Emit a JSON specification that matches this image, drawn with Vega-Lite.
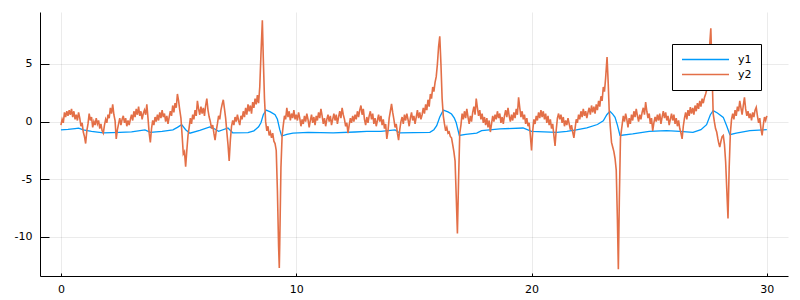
{
 "$schema": "https://vega.github.io/schema/vega-lite/v6.json",
 "width": 748,
 "height": 264,
 "autosize": {"type": "none"},
 "padding": {"left": 40, "top": 12, "right": 12, "bottom": 24},
 "background": "white",
 "config": {
  "view": {"stroke": null},
  "axis": {"labelFont": "DejaVu Sans", "labelFontSize": 11, "labelColor": "#000", "domainColor": "#000", "domainWidth": 1, "tickColor": "#000", "tickWidth": 1, "gridColor": "#000", "gridOpacity": 0.1, "gridWidth": 0.8}
 },
 "datasets": {
  "y1": [
   {"x":0,"y":-0.72},{"x":0.3,"y":-0.68},{"x":0.6,"y":-0.6},{"x":0.75,"y":-0.56},{"x":0.95,"y":-0.72},{"x":1.3,"y":-0.85},{"x":1.8,"y":-0.98},{"x":2.5,"y":-0.93},{"x":3.0,"y":-0.88},{"x":3.57,"y":-0.72},{"x":3.8,"y":-0.93},{"x":4.3,"y":-0.85},{"x":4.76,"y":-0.72},{"x":4.95,"y":-0.5},{"x":5.13,"y":-0.26},{"x":5.3,"y":-0.7},{"x":5.48,"y":-1.0},{"x":5.9,"y":-0.75},{"x":6.33,"y":-0.45},{"x":6.5,"y":-0.6},{"x":6.7,"y":-0.84},{"x":7.1,"y":-0.55},{"x":7.3,"y":-0.97},{"x":7.95,"y":-0.95},{"x":8.2,"y":-0.8},{"x":8.4,"y":-0.45},{"x":8.5,"y":-0.1},{"x":8.6,"y":0.6},{"x":8.72,"y":1.0},{"x":8.9,"y":0.85},{"x":9.1,"y":0.6},{"x":9.2,"y":0.2},{"x":9.3,"y":-0.7},{"x":9.38,"y":-1.25},{"x":9.6,"y":-1.1},{"x":9.86,"y":-1.0},{"x":10.5,"y":-0.93},{"x":11.57,"y":-0.97},{"x":12.5,"y":-0.9},{"x":13.0,"y":-0.84},{"x":13.6,"y":-0.85},{"x":14.2,"y":-0.72},{"x":14.4,"y":-0.98},{"x":15.0,"y":-0.95},{"x":15.68,"y":-0.93},{"x":15.85,"y":-0.7},{"x":15.97,"y":-0.35},{"x":16.1,"y":0.4},{"x":16.25,"y":1.0},{"x":16.45,"y":0.85},{"x":16.6,"y":0.66},{"x":16.72,"y":0.3},{"x":16.8,"y":-0.1},{"x":16.93,"y":-1.2},{"x":17.2,"y":-1.1},{"x":17.67,"y":-1.0},{"x":17.88,"y":-0.78},{"x":18.66,"y":-0.63},{"x":19.64,"y":-0.55},{"x":20.0,"y":-0.84},{"x":21.07,"y":-0.93},{"x":21.5,"y":-0.85},{"x":21.9,"y":-0.72},{"x":22.35,"y":-0.55},{"x":22.8,"y":-0.25},{"x":23.05,"y":0.08},{"x":23.2,"y":0.6},{"x":23.33,"y":0.9},{"x":23.45,"y":0.65},{"x":23.55,"y":0.37},{"x":23.65,"y":-0.3},{"x":23.76,"y":-1.2},{"x":24.3,"y":-1.07},{"x":25.0,"y":-0.85},{"x":25.74,"y":-0.78},{"x":26.3,"y":-0.84},{"x":26.86,"y":-0.93},{"x":27.2,"y":-0.7},{"x":27.44,"y":-0.26},{"x":27.6,"y":0.6},{"x":27.72,"y":0.95},{"x":27.9,"y":0.75},{"x":28.15,"y":0.37},{"x":28.3,"y":-0.4},{"x":28.43,"y":-1.13},{"x":28.7,"y":-1.0},{"x":29.28,"y":-0.78},{"x":29.85,"y":-0.72},{"x":30.0,"y":-0.7}
  ],
  "y2": [
   {"x":0.00,"y":-0.3},{"x":0.05,"y":0.2},{"x":0.10,"y":-0.1},{"x":0.15,"y":0.8},{"x":0.20,"y":0.4},{"x":0.25,"y":0.9},{"x":0.30,"y":0.5},{"x":0.35,"y":1.0},{"x":0.40,"y":0.6},{"x":0.45,"y":1.1},{"x":0.50,"y":0.4},{"x":0.55,"y":0.9},{"x":0.60,"y":0.2},{"x":0.65,"y":0.6},{"x":0.70,"y":0.1},{"x":0.75,"y":0.8},{"x":0.80,"y":0.3},{"x":0.85,"y":-0.4},{"x":0.90,"y":-0.1},{"x":0.95,"y":-0.9},
   {"x":1.00,"y":-1.3},{"x":1.05,"y":-1.9},{"x":1.10,"y":-0.8},{"x":1.15,"y":-0.2},{"x":1.20,"y":0.7},{"x":1.25,"y":0.1},{"x":1.30,"y":0.4},{"x":1.35,"y":-0.5},{"x":1.40,"y":0.0},{"x":1.45,"y":-0.3},{"x":1.50,"y":0.3},{"x":1.55,"y":-0.2},{"x":1.60,"y":0.1},{"x":1.65,"y":-0.6},{"x":1.70,"y":-0.2},{"x":1.75,"y":-0.8},{"x":1.80,"y":-1.0},{"x":1.85,"y":-0.3},{"x":1.90,"y":0.2},{"x":1.95,"y":-0.1},
   {"x":2.00,"y":0.6},{"x":2.05,"y":0.3},{"x":2.10,"y":1.2},{"x":2.15,"y":0.7},{"x":2.20,"y":1.5},{"x":2.25,"y":0.6},{"x":2.30,"y":0.1},{"x":2.35,"y":-1.5},{"x":2.40,"y":-0.7},{"x":2.45,"y":-0.2},{"x":2.50,"y":0.3},{"x":2.55,"y":-0.3},{"x":2.60,"y":0.2},{"x":2.65,"y":0.5},{"x":2.70,"y":-0.1},{"x":2.75,"y":0.3},{"x":2.80,"y":-0.4},{"x":2.85,"y":0.1},{"x":2.90,"y":-0.3},{"x":2.95,"y":0.2},
   {"x":3.00,"y":0.6},{"x":3.05,"y":0.1},{"x":3.10,"y":0.9},{"x":3.15,"y":0.4},{"x":3.20,"y":1.1},{"x":3.25,"y":0.6},{"x":3.30,"y":1.3},{"x":3.35,"y":0.5},{"x":3.40,"y":0.9},{"x":3.45,"y":0.2},{"x":3.50,"y":0.7},{"x":3.55,"y":1.0},{"x":3.60,"y":0.6},{"x":3.65,"y":1.5},{"x":3.70,"y":0.3},{"x":3.75,"y":-1.0},{"x":3.80,"y":-1.8},{"x":3.85,"y":-0.6},{"x":3.90,"y":0.1},{"x":3.95,"y":-0.3},
   {"x":4.00,"y":0.4},{"x":4.05,"y":0.0},{"x":4.10,"y":0.6},{"x":4.15,"y":0.1},{"x":4.20,"y":0.8},{"x":4.25,"y":0.3},{"x":4.30,"y":1.0},{"x":4.35,"y":0.4},{"x":4.40,"y":0.7},{"x":4.45,"y":0.0},{"x":4.50,"y":0.5},{"x":4.55,"y":-0.2},{"x":4.60,"y":0.4},{"x":4.65,"y":0.9},{"x":4.70,"y":0.5},{"x":4.75,"y":1.4},{"x":4.80,"y":0.8},{"x":4.85,"y":1.6},{"x":4.90,"y":1.2},{"x":4.95,"y":2.4},
   {"x":5.00,"y":1.8},{"x":5.05,"y":1.0},{"x":5.10,"y":0.3},{"x":5.15,"y":-1.2},{"x":5.20,"y":-2.8},{"x":5.25,"y":-2.6},{"x":5.30,"y":-3.9},{"x":5.35,"y":-2.5},{"x":5.40,"y":-1.2},{"x":5.45,"y":-0.5},{"x":5.50,"y":0.3},{"x":5.55,"y":-0.2},{"x":5.60,"y":0.6},{"x":5.65,"y":0.2},{"x":5.70,"y":1.0},{"x":5.75,"y":0.5},{"x":5.80,"y":1.8},{"x":5.85,"y":1.1},{"x":5.90,"y":0.6},{"x":5.95,"y":1.3},
   {"x":6.00,"y":0.7},{"x":6.05,"y":1.2},{"x":6.10,"y":0.5},{"x":6.15,"y":1.4},{"x":6.20,"y":2.0},{"x":6.25,"y":1.0},{"x":6.30,"y":0.4},{"x":6.35,"y":0.0},{"x":6.40,"y":-0.6},{"x":6.45,"y":-0.3},{"x":6.50,"y":-1.0},{"x":6.55,"y":-1.6},{"x":6.60,"y":-0.8},{"x":6.65,"y":-0.2},{"x":6.70,"y":0.5},{"x":6.75,"y":0.2},{"x":6.80,"y":1.0},{"x":6.85,"y":1.5},{"x":6.90,"y":1.9},{"x":6.95,"y":1.1},
   {"x":7.00,"y":0.3},{"x":7.05,"y":-0.9},{"x":7.10,"y":-2.0},{"x":7.15,"y":-3.4},{"x":7.20,"y":-1.6},{"x":7.25,"y":-0.4},{"x":7.30,"y":0.1},{"x":7.35,"y":-0.3},{"x":7.40,"y":0.4},{"x":7.45,"y":0.0},{"x":7.50,"y":0.6},{"x":7.55,"y":0.1},{"x":7.60,"y":-0.3},{"x":7.65,"y":0.5},{"x":7.70,"y":0.2},{"x":7.75,"y":0.9},{"x":7.80,"y":0.4},{"x":7.85,"y":1.2},{"x":7.90,"y":0.6},{"x":7.95,"y":1.5},
   {"x":8.00,"y":0.9},{"x":8.05,"y":1.4},{"x":8.10,"y":0.7},{"x":8.15,"y":1.7},{"x":8.20,"y":1.2},{"x":8.25,"y":2.0},{"x":8.30,"y":1.5},{"x":8.35,"y":2.3},{"x":8.40,"y":1.6},{"x":8.45,"y":3.0},{"x":8.50,"y":5.8},{"x":8.56,"y":8.8},{"x":8.60,"y":5.5},{"x":8.65,"y":2.0},{"x":8.70,"y":0.0},{"x":8.75,"y":-0.8},{"x":8.80,"y":-0.4},{"x":8.85,"y":-1.2},{"x":8.90,"y":-0.9},{"x":8.95,"y":-1.4},
   {"x":9.00,"y":-1.0},{"x":9.05,"y":-1.7},{"x":9.10,"y":-1.9},{"x":9.15,"y":-2.5},{"x":9.20,"y":-6.0},{"x":9.25,"y":-10.8},{"x":9.28,"y":-12.7},{"x":9.30,"y":-10.5},{"x":9.35,"y":-4.0},{"x":9.40,"y":-1.2},{"x":9.45,"y":-0.3},{"x":9.50,"y":0.5},{"x":9.55,"y":0.2},{"x":9.60,"y":1.2},{"x":9.65,"y":0.4},{"x":9.70,"y":0.9},{"x":9.75,"y":0.1},{"x":9.80,"y":0.7},{"x":9.85,"y":0.3},{"x":9.90,"y":1.0},{"x":9.95,"y":0.2},
   {"x":10.00,"y":0.6},{"x":10.05,"y":0.1},{"x":10.10,"y":0.8},{"x":10.15,"y":0.3},{"x":10.20,"y":-0.4},{"x":10.25,"y":0.2},{"x":10.30,"y":-0.2},{"x":10.35,"y":0.5},{"x":10.40,"y":0.0},{"x":10.45,"y":0.7},{"x":10.50,"y":0.2},{"x":10.55,"y":-0.5},{"x":10.60,"y":0.1},{"x":10.65,"y":0.6},{"x":10.70,"y":-0.1},{"x":10.75,"y":0.4},{"x":10.80,"y":-0.3},{"x":10.85,"y":0.5},{"x":10.90,"y":0.1},{"x":10.95,"y":0.8},
   {"x":11.00,"y":0.3},{"x":11.05,"y":1.1},{"x":11.10,"y":0.5},{"x":11.15,"y":-0.2},{"x":11.20,"y":0.3},{"x":11.25,"y":-0.4},{"x":11.30,"y":0.2},{"x":11.35,"y":0.6},{"x":11.40,"y":0.0},{"x":11.45,"y":0.5},{"x":11.50,"y":-0.3},{"x":11.55,"y":0.2},{"x":11.60,"y":0.7},{"x":11.65,"y":0.1},{"x":11.70,"y":0.6},{"x":11.75,"y":-0.2},{"x":11.80,"y":0.4},{"x":11.85,"y":0.9},{"x":11.90,"y":0.3},{"x":11.95,"y":1.2},
   {"x":12.00,"y":0.6},{"x":12.05,"y":0.2},{"x":12.10,"y":-0.4},{"x":12.15,"y":-0.1},{"x":12.20,"y":-1.0},{"x":12.25,"y":-0.3},{"x":12.30,"y":0.3},{"x":12.35,"y":-0.1},{"x":12.40,"y":0.5},{"x":12.45,"y":0.0},{"x":12.50,"y":0.6},{"x":12.55,"y":0.2},{"x":12.60,"y":0.9},{"x":12.65,"y":0.4},{"x":12.70,"y":1.0},{"x":12.75,"y":1.4},{"x":12.80,"y":0.6},{"x":12.85,"y":1.1},{"x":12.90,"y":0.2},{"x":12.95,"y":-0.3},
   {"x":13.00,"y":0.4},{"x":13.05,"y":-0.1},{"x":13.10,"y":0.5},{"x":13.15,"y":0.9},{"x":13.20,"y":0.2},{"x":13.25,"y":0.7},{"x":13.30,"y":-0.2},{"x":13.35,"y":0.3},{"x":13.40,"y":-0.4},{"x":13.45,"y":0.1},{"x":13.50,"y":0.6},{"x":13.55,"y":0.0},{"x":13.60,"y":0.5},{"x":13.65,"y":-0.3},{"x":13.70,"y":0.2},{"x":13.75,"y":-0.6},{"x":13.80,"y":-0.2},{"x":13.85,"y":-1.5},{"x":13.90,"y":-0.8},{"x":13.95,"y":0.3},
   {"x":14.00,"y":0.9},{"x":14.05,"y":1.55},{"x":14.10,"y":0.8},{"x":14.15,"y":0.2},{"x":14.20,"y":-0.5},{"x":14.25,"y":-0.2},{"x":14.30,"y":-1.0},{"x":14.35,"y":-1.6},{"x":14.40,"y":-0.7},{"x":14.45,"y":0.0},{"x":14.50,"y":0.4},{"x":14.55,"y":-0.2},{"x":14.60,"y":0.6},{"x":14.65,"y":0.1},{"x":14.70,"y":0.7},{"x":14.75,"y":0.2},{"x":14.80,"y":-0.4},{"x":14.85,"y":0.3},{"x":14.90,"y":0.8},{"x":14.95,"y":0.1},
   {"x":15.00,"y":0.5},{"x":15.05,"y":-0.2},{"x":15.10,"y":0.4},{"x":15.15,"y":1.0},{"x":15.20,"y":0.3},{"x":15.25,"y":0.8},{"x":15.30,"y":0.2},{"x":15.35,"y":0.6},{"x":15.40,"y":1.2},{"x":15.45,"y":0.7},{"x":15.50,"y":1.5},{"x":15.55,"y":1.0},{"x":15.60,"y":1.9},{"x":15.65,"y":1.3},{"x":15.70,"y":2.4},{"x":15.75,"y":2.0},{"x":15.80,"y":3.0},{"x":15.85,"y":2.6},{"x":15.90,"y":3.4},{"x":15.95,"y":3.9},
   {"x":16.00,"y":5.0},{"x":16.05,"y":6.5},{"x":16.10,"y":7.4},{"x":16.15,"y":5.0},{"x":16.20,"y":2.0},{"x":16.25,"y":0.5},{"x":16.30,"y":-0.2},{"x":16.35,"y":-0.8},{"x":16.40,"y":-0.5},{"x":16.45,"y":-1.0},{"x":16.50,"y":-0.9},{"x":16.55,"y":-1.3},{"x":16.60,"y":-1.4},{"x":16.65,"y":-2.0},{"x":16.70,"y":-2.6},{"x":16.75,"y":-3.4},{"x":16.80,"y":-6.5},{"x":16.85,"y":-9.7},{"x":16.90,"y":-5.0},{"x":16.95,"y":-1.0},
   {"x":17.00,"y":-0.3},{"x":17.05,"y":0.7},{"x":17.10,"y":0.2},{"x":17.15,"y":0.9},{"x":17.20,"y":0.3},{"x":17.25,"y":1.1},{"x":17.30,"y":0.4},{"x":17.35,"y":-0.2},{"x":17.40,"y":0.5},{"x":17.45,"y":0.0},{"x":17.50,"y":0.8},{"x":17.55,"y":1.3},{"x":17.60,"y":0.6},{"x":17.65,"y":2.0},{"x":17.70,"y":1.2},{"x":17.75,"y":0.5},{"x":17.80,"y":1.0},{"x":17.85,"y":0.2},{"x":17.90,"y":0.7},{"x":17.95,"y":-0.1},
   {"x":18.00,"y":0.4},{"x":18.05,"y":-0.3},{"x":18.10,"y":0.3},{"x":18.15,"y":-0.5},{"x":18.20,"y":0.1},{"x":18.25,"y":-0.9},{"x":18.30,"y":-0.2},{"x":18.35,"y":0.5},{"x":18.40,"y":0.0},{"x":18.45,"y":0.6},{"x":18.50,"y":0.2},{"x":18.55,"y":0.9},{"x":18.60,"y":0.3},{"x":18.65,"y":0.7},{"x":18.70,"y":-0.1},{"x":18.75,"y":0.4},{"x":18.80,"y":-0.2},{"x":18.85,"y":0.5},{"x":18.90,"y":1.0},{"x":18.95,"y":0.4},
   {"x":19.00,"y":1.2},{"x":19.05,"y":0.5},{"x":19.10,"y":0.0},{"x":19.15,"y":0.6},{"x":19.20,"y":0.1},{"x":19.25,"y":0.8},{"x":19.30,"y":0.3},{"x":19.35,"y":1.1},{"x":19.40,"y":0.6},{"x":19.45,"y":2.1},{"x":19.50,"y":1.2},{"x":19.55,"y":0.4},{"x":19.60,"y":0.9},{"x":19.65,"y":0.2},{"x":19.70,"y":0.6},{"x":19.75,"y":-0.2},{"x":19.80,"y":0.3},{"x":19.85,"y":-0.4},{"x":19.90,"y":-0.1},{"x":19.95,"y":-1.2},
   {"x":20.00,"y":-2.5},{"x":20.05,"y":-0.8},{"x":20.10,"y":0.2},{"x":20.15,"y":-0.2},{"x":20.20,"y":0.5},{"x":20.25,"y":0.1},{"x":20.30,"y":0.8},{"x":20.35,"y":0.3},{"x":20.40,"y":1.0},{"x":20.45,"y":0.4},{"x":20.50,"y":0.9},{"x":20.55,"y":0.2},{"x":20.60,"y":0.7},{"x":20.65,"y":-0.1},{"x":20.70,"y":0.5},{"x":20.75,"y":-0.3},{"x":20.80,"y":0.2},{"x":20.85,"y":-0.6},{"x":20.90,"y":-0.2},{"x":20.95,"y":-1.2},
   {"x":21.00,"y":-2.1},{"x":21.05,"y":-0.7},{"x":21.10,"y":0.3},{"x":21.15,"y":0.7},{"x":21.20,"y":0.2},{"x":21.25,"y":0.6},{"x":21.30,"y":-0.1},{"x":21.35,"y":0.4},{"x":21.40,"y":-0.4},{"x":21.45,"y":0.1},{"x":21.50,"y":-0.3},{"x":21.55,"y":0.3},{"x":21.60,"y":-0.2},{"x":21.65,"y":-0.7},{"x":21.70,"y":-0.3},{"x":21.75,"y":-0.9},{"x":21.80,"y":-1.4},{"x":21.85,"y":-0.6},{"x":21.90,"y":0.2},{"x":21.95,"y":-0.1},
   {"x":22.00,"y":0.6},{"x":22.05,"y":0.2},{"x":22.10,"y":0.9},{"x":22.15,"y":0.4},{"x":22.20,"y":1.1},{"x":22.25,"y":0.5},{"x":22.30,"y":0.9},{"x":22.35,"y":0.3},{"x":22.40,"y":0.8},{"x":22.45,"y":1.2},{"x":22.50,"y":0.6},{"x":22.55,"y":1.4},{"x":22.60,"y":0.8},{"x":22.65,"y":1.3},{"x":22.70,"y":0.7},{"x":22.75,"y":1.5},{"x":22.80,"y":1.0},{"x":22.85,"y":1.8},{"x":22.90,"y":1.3},{"x":22.95,"y":2.2},
   {"x":23.00,"y":1.8},{"x":23.05,"y":3.0},{"x":23.10,"y":2.6},{"x":23.15,"y":3.8},{"x":23.21,"y":5.6},{"x":23.26,"y":3.3},{"x":23.30,"y":1.0},{"x":23.35,"y":-0.5},{"x":23.40,"y":-1.8},{"x":23.45,"y":-2.2},{"x":23.50,"y":-2.6},{"x":23.55,"y":-3.2},{"x":23.60,"y":-4.2},{"x":23.65,"y":-8.5},{"x":23.69,"y":-12.8},{"x":23.73,"y":-7.0},{"x":23.78,"y":-1.4},{"x":23.85,"y":-0.3},{"x":23.90,"y":0.5},{"x":23.95,"y":0.0},
   {"x":24.00,"y":0.7},{"x":24.05,"y":0.2},{"x":24.10,"y":-0.5},{"x":24.15,"y":0.3},{"x":24.20,"y":-0.2},{"x":24.25,"y":0.6},{"x":24.30,"y":0.1},{"x":24.35,"y":0.9},{"x":24.40,"y":0.4},{"x":24.45,"y":1.1},{"x":24.50,"y":0.5},{"x":24.55,"y":0.0},{"x":24.60,"y":0.6},{"x":24.65,"y":0.2},{"x":24.70,"y":0.8},{"x":24.75,"y":1.2},{"x":24.80,"y":0.6},{"x":24.85,"y":1.7},{"x":24.90,"y":0.9},{"x":24.95,"y":0.3},
   {"x":25.00,"y":0.7},{"x":25.05,"y":-0.2},{"x":25.10,"y":0.3},{"x":25.15,"y":-0.8},{"x":25.20,"y":-0.1},{"x":25.25,"y":0.4},{"x":25.30,"y":0.0},{"x":25.35,"y":0.6},{"x":25.40,"y":0.1},{"x":25.45,"y":0.7},{"x":25.50,"y":-0.2},{"x":25.55,"y":0.4},{"x":25.60,"y":0.9},{"x":25.65,"y":0.3},{"x":25.70,"y":0.8},{"x":25.75,"y":0.1},{"x":25.80,"y":0.5},{"x":25.85,"y":-0.3},{"x":25.90,"y":0.2},{"x":25.95,"y":0.7},
   {"x":26.00,"y":0.1},{"x":26.05,"y":0.6},{"x":26.10,"y":-0.2},{"x":26.15,"y":0.3},{"x":26.20,"y":-0.4},{"x":26.25,"y":0.1},{"x":26.30,"y":-0.6},{"x":26.35,"y":-1.0},{"x":26.40,"y":-1.5},{"x":26.45,"y":-0.4},{"x":26.50,"y":0.3},{"x":26.55,"y":0.8},{"x":26.60,"y":0.2},{"x":26.65,"y":1.0},{"x":26.70,"y":0.5},{"x":26.75,"y":1.25},{"x":26.80,"y":0.7},{"x":26.85,"y":1.2},{"x":26.90,"y":0.6},{"x":26.95,"y":1.4},
   {"x":27.00,"y":0.9},{"x":27.05,"y":1.6},{"x":27.10,"y":1.1},{"x":27.15,"y":1.8},{"x":27.20,"y":1.3},{"x":27.25,"y":2.0},{"x":27.30,"y":1.6},{"x":27.35,"y":2.1},{"x":27.40,"y":2.4},{"x":27.45,"y":2.8},{"x":27.50,"y":4.5},{"x":27.56,"y":6.3},{"x":27.62,"y":8.1},{"x":27.67,"y":4.5},{"x":27.72,"y":0.7},{"x":27.77,"y":0.0},{"x":27.82,"y":-0.6},{"x":27.87,"y":-0.9},{"x":27.92,"y":-1.5},{"x":27.96,"y":-1.9},
   {"x":28.00,"y":-2.2},{"x":28.05,"y":-1.7},{"x":28.10,"y":-1.3},{"x":28.15,"y":-1.2},{"x":28.20,"y":-2.0},{"x":28.25,"y":-3.5},{"x":28.30,"y":-6.0},{"x":28.35,"y":-8.4},{"x":28.40,"y":-4.0},{"x":28.45,"y":-1.0},{"x":28.50,"y":0.2},{"x":28.55,"y":0.7},{"x":28.60,"y":0.2},{"x":28.65,"y":1.0},{"x":28.70,"y":0.5},{"x":28.75,"y":1.3},{"x":28.80,"y":0.9},{"x":28.85,"y":1.8},{"x":28.90,"y":1.2},{"x":28.95,"y":0.6},
   {"x":29.00,"y":1.4},{"x":29.05,"y":2.1},{"x":29.10,"y":1.1},{"x":29.15,"y":0.5},{"x":29.20,"y":0.9},{"x":29.25,"y":0.3},{"x":29.30,"y":0.7},{"x":29.35,"y":0.1},{"x":29.40,"y":0.8},{"x":29.45,"y":0.4},{"x":29.50,"y":1.0},{"x":29.55,"y":1.25},{"x":29.60,"y":0.5},{"x":29.65,"y":-0.1},{"x":29.70,"y":0.3},{"x":29.75,"y":-0.6},{"x":29.80,"y":-1.2},{"x":29.85,"y":-0.3},{"x":29.90,"y":0.4},{"x":29.95,"y":0.1},
   {"x":30.00,"y":0.5}
  ]
 },
 "layer": [
  {
   "data": {"name": "y1"},
   "mark": {"type": "line", "strokeWidth": 1.3},
   "encoding": {
    "x": {"field": "x", "type": "quantitative", "title": null,
          "scale": {"domain": [-0.89, 30.9], "nice": false, "zero": false},
          "axis": {"values": [0, 10, 20, 30], "tickSize": -3, "labelPadding": 10, "labelFlush": false, "labelExpr": "'' + datum.value"}},
    "y": {"field": "y", "type": "quantitative", "title": null,
          "scale": {"domain": [-13.39, 9.51], "nice": false, "zero": false},
          "axis": {"values": [-10, -5, 0, 5], "tickSize": -9, "labelPadding": 17, "labelExpr": "'' + datum.value"}},
    "color": {"datum": "y1",
              "scale": {"domain": ["y1", "y2"], "range": ["#009AFA", "#E36F47"]},
              "legend": {"orient": "none", "legendX": 632, "legendY": 32, "title": null,
                         "strokeColor": "#000", "fillColor": "#fff", "padding": 9,
                         "symbolType": "stroke", "symbolSize": 2209, "symbolStrokeWidth": 1.3,
                         "clipHeight": 13, "rowPadding": 2, "labelOffset": 8,
                         "labelFont": "DejaVu Sans", "labelFontSize": 11, "labelColor": "#000"}}
   }
  },
  {
   "data": {"name": "y2"},
   "mark": {"type": "line", "strokeWidth": 1.6},
   "encoding": {
    "x": {"field": "x", "type": "quantitative"},
    "y": {"field": "y", "type": "quantitative"},
    "color": {"datum": "y2"}
   }
  }
 ]
}
